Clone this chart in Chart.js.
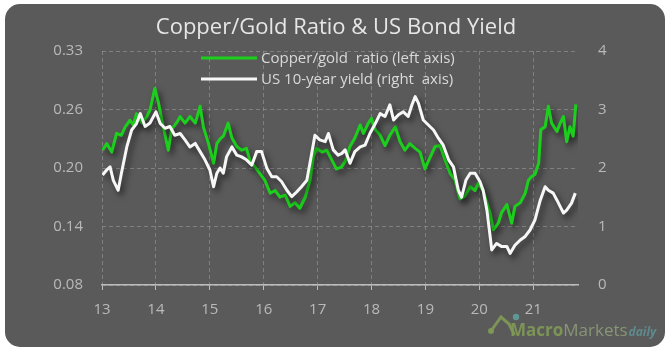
<!DOCTYPE html>
<html>
<head>
<meta charset="utf-8">
<script src="https://cdn.jsdelivr.net/npm/chart.js@4"></script>
<style>
  html, body { margin: 0; padding: 0; background: #ffffff; }
  #panel {
    position: absolute; left: 5px; top: 4px; width: 660px; height: 343px;
    background: #5a5a5a; border-radius: 15px; overflow: hidden;
  }
  #c { display: block; }
</style>
</head>
<body>
<div id="panel"><canvas id="c" width="660" height="343"></canvas></div>
<script>
const chartTitle = 'Copper/Gold Ratio & US Bond Yield';
const seriesLabels = ['Copper/gold  ratio (left axis)', 'US 10-year yield (right  axis)'];

const copperYears = [13.01,13.09,13.18,13.27,13.36,13.43,13.52,13.58,13.64,13.74,13.83,13.89,13.98,
  14.05,14.11,14.17,14.23,14.29,14.39,14.45,14.54,14.63,14.73,14.82,14.88,14.97,
  15.07,15.13,15.19,15.25,15.34,15.41,15.50,15.59,15.68,15.75,15.84,15.93,
  16.02,16.12,16.21,16.30,16.40,16.49,16.58,16.67,16.77,16.86,16.92,16.98,
  17.08,17.17,17.26,17.35,17.44,17.51,17.60,17.69,17.79,17.85,17.94,
  18.00,18.07,18.16,18.25,18.34,18.44,18.53,18.62,18.71,18.81,18.90,18.99,
  19.09,19.18,19.27,19.36,19.46,19.55,19.64,19.73,19.83,19.92,19.98,
  20.07,20.14,20.20,20.26,20.35,20.41,20.51,20.60,20.66,20.76,20.85,20.91,20.97,
  21.03,21.10,21.14,21.22,21.28,21.34,21.44,21.50,21.56,21.62,21.68,21.74,21.79];
const copperGoldRatio = [0.224,0.231,0.222,0.242,0.240,0.249,0.256,0.251,0.263,0.253,
  0.260,0.267,0.290,0.274,0.256,0.240,0.224,0.246,0.254,0.260,
  0.253,0.260,0.253,0.271,0.249,0.232,0.210,0.231,0.236,0.239,
  0.253,0.237,0.228,0.224,0.226,0.212,0.206,0.199,0.192,0.178,
  0.181,0.174,0.176,0.164,0.168,0.162,0.174,0.192,0.217,0.226,
  0.222,0.224,0.214,0.204,0.206,0.212,0.228,0.237,0.251,0.242,
  0.253,0.258,0.246,0.240,0.229,0.240,0.249,0.233,0.224,0.231,
  0.226,0.222,0.204,0.217,0.228,0.229,0.214,0.199,0.192,0.172,
  0.175,0.185,0.181,0.189,0.181,0.168,0.157,0.139,0.146,0.157,
  0.166,0.146,0.164,0.168,0.178,0.192,0.196,0.198,0.210,0.246,
  0.249,0.271,0.253,0.244,0.253,0.260,0.233,0.249,0.239,0.273];

const yieldYears = [13.01,13.09,13.15,13.21,13.30,13.36,13.46,13.55,13.64,13.71,13.80,13.89,
  14.00,14.08,14.17,14.26,14.35,14.45,14.54,14.63,14.73,14.82,14.91,
  15.00,15.07,15.13,15.19,15.25,15.31,15.41,15.50,15.59,15.68,15.78,15.87,15.96,
  16.06,16.15,16.24,16.33,16.43,16.52,16.61,16.70,16.80,16.89,16.95,
  17.04,17.14,17.20,17.29,17.38,17.45,17.51,17.60,17.69,17.79,17.88,17.97,
  18.07,18.16,18.25,18.34,18.41,18.50,18.59,18.68,18.75,18.81,18.87,18.96,
  19.05,19.15,19.24,19.33,19.43,19.52,19.61,19.67,19.75,19.83,19.92,
  20.01,20.07,20.14,20.20,20.23,20.32,20.41,20.51,20.57,20.66,20.76,20.85,20.94,
  21.03,21.13,21.22,21.28,21.37,21.44,21.50,21.56,21.62,21.71,21.78];
const usYield = [1.88,1.97,2.02,1.79,1.62,1.91,2.36,2.65,2.76,2.93,
  2.71,2.77,2.96,2.76,2.68,2.71,2.56,2.59,2.48,2.36,
  2.42,2.28,2.14,1.97,1.68,1.91,2.00,1.91,2.19,2.36,
  2.22,2.19,2.14,2.05,2.28,2.28,1.99,1.85,1.85,1.77,
  1.62,1.51,1.59,1.68,1.79,2.25,2.56,2.48,2.45,2.59,
  2.31,2.22,2.25,2.31,2.08,2.28,2.36,2.39,2.59,2.76,
  2.93,2.88,3.08,2.82,2.91,2.96,2.88,3.08,3.22,3.11,
  2.82,2.74,2.65,2.51,2.39,2.14,2.02,1.62,1.50,1.79,
  1.91,1.91,1.77,1.62,1.28,0.83,0.60,0.71,0.66,0.66,
  0.54,0.68,0.77,0.83,0.94,1.11,1.45,1.68,1.62,1.57,
  1.45,1.34,1.23,1.28,1.40,1.57];

const xTickValues = [13,14,15,16,17,18,19,20,21];
const leftTickValues = [0.08,0.1425,0.205,0.2675,0.33];
const leftTickLabels = ['0.08','0.14','0.20','0.26','0.33'];
const rightTickValues = [0,1,2,3,4];

const FONT = '"Open Sans", "DejaVu Sans", sans-serif';
const GREEN = '#1ccf1c';
const WHITE = '#f7f7f7';
const GRID = 'rgba(160,160,160,0.55)';
const TICKTXT = '#b9b9b9';

const shadowPlugin = {
  id: 'lineShadow',
  beforeDatasetDraw(chart) {
    const ctx = chart.ctx;
    ctx.save();
    ctx.shadowColor = 'rgba(0,0,0,0.6)';
    ctx.shadowBlur = 6;
    ctx.shadowOffsetX = 3;
    ctx.shadowOffsetY = 4;
  },
  afterDatasetDraw(chart) { chart.ctx.restore(); }
};

const overlayPlugin = {
  id: 'overlay',
  afterDraw(chart) {
    const ctx = chart.ctx;
    ctx.save();
    // title
    ctx.fillStyle = '#e6e6e6';
    ctx.font = '22px ' + FONT;
    ctx.textAlign = 'center';
    ctx.textBaseline = 'middle';
    ctx.fillText(chartTitle, 331, 24);
    // legend
    const items = [
      {label: chart.data.datasets[0].label, color: GREEN, y: 54},
      {label: chart.data.datasets[1].label, color: WHITE, y: 75}
    ];
    ctx.textAlign = 'left';
    ctx.font = '15px ' + FONT;
    items.forEach(it => {
      ctx.strokeStyle = it.color;
      ctx.lineWidth = 3;
      ctx.beginPath();
      ctx.moveTo(196, it.y);
      ctx.lineTo(252, it.y);
      ctx.stroke();
      ctx.fillStyle = '#d9d9d9';
      ctx.fillText(it.label, 256, it.y + 1);
    });
    // watermark
    ctx.globalAlpha = 0.9;
    ctx.strokeStyle = '#7f9a55';
    ctx.lineWidth = 3;
    ctx.lineCap = 'round';
    ctx.beginPath();
    ctx.moveTo(486, 327);
    ctx.lineTo(496, 313);
    ctx.lineTo(504, 320);
    ctx.lineTo(509, 330);
    ctx.stroke();
    ctx.fillStyle = '#7f9a55';
    ctx.beginPath(); ctx.arc(486, 327, 3, 0, Math.PI * 2); ctx.fill();
    ctx.fillStyle = '#5e9e9a';
    ctx.beginPath(); ctx.arc(511, 313, 3.2, 0, Math.PI * 2); ctx.fill();
    ctx.textBaseline = 'alphabetic';
    ctx.font = 'bold 17px ' + FONT;
    ctx.fillStyle = '#7f9a55';
    ctx.fillText('Macro', 505, 332);
    let w = ctx.measureText('Macro').width;
    ctx.font = '17px ' + FONT;
    ctx.fillStyle = '#8c9c78';
    ctx.fillText('Markets', 505 + w, 332);
    w += ctx.measureText('Markets').width;
    ctx.font = 'italic bold 12px ' + FONT;
    ctx.fillStyle = '#5f8f94';
    ctx.fillText('daily', 506 + w, 332);
    ctx.restore();
  }
};

const ctx = document.getElementById('c').getContext('2d');
new Chart(ctx, {
  type: 'line',
  data: {
    datasets: [
      {
        label: seriesLabels[0],
        data: copperYears.map((x, i) => ({x: x, y: copperGoldRatio[i]})),
        yAxisID: 'yL',
        borderColor: GREEN,
        borderWidth: 3,
        pointRadius: 0,
        tension: 0,
        borderJoinStyle: 'round',
        order: 2
      },
      {
        label: seriesLabels[1],
        data: yieldYears.map((x, i) => ({x: x, y: usYield[i]})),
        yAxisID: 'yR',
        borderColor: WHITE,
        borderWidth: 3,
        pointRadius: 0,
        tension: 0,
        borderJoinStyle: 'round',
        order: 1
      }
    ]
  },
  options: {
    responsive: false,
    animation: false,
    devicePixelRatio: 1,
    layout: { padding: { top: 47, left: 0, right: 0, bottom: 0 } },
    plugins: { legend: { display: false }, title: { display: false }, tooltip: { enabled: false } },
    scales: {
      x: {
        type: 'linear',
        min: 13,
        max: 21.83,
        afterBuildTicks(s) { s.ticks = xTickValues.map(v => ({value: v})); },
        afterFit(s) { s.height = 62; },
        ticks: { color: TICKTXT, font: { family: FONT, size: 15 }, padding: 11, autoSkip: false, maxRotation: 0 },
        grid: { color: GRID, tickColor: '#bdbdbd', tickLength: 5, tickBorderDash: [] },
        border: { display: true, color: '#bdbdbd', width: 1.5, dash: [4, 3] }
      },
      yL: {
        type: 'linear',
        position: 'left',
        min: 0.08,
        max: 0.33,
        afterBuildTicks(s) { s.ticks = leftTickValues.map(v => ({value: v})); },
        afterFit(s) { s.width = 97; },
        ticks: {
          color: TICKTXT, font: { family: FONT, size: 15 }, padding: 19,
          callback: (v, i) => leftTickLabels[i]
        },
        grid: { color: GRID, drawTicks: false },
        border: { display: false, dash: [4, 3] }
      },
      yR: {
        type: 'linear',
        position: 'right',
        min: 0,
        max: 4,
        afterBuildTicks(s) { s.ticks = rightTickValues.map(v => ({value: v})); },
        afterFit(s) { s.width = 87; },
        ticks: { color: TICKTXT, font: { family: FONT, size: 15 }, padding: 20, callback: v => String(v) },
        grid: { display: false, drawTicks: false },
        border: { display: false }
      }
    }
  },
  plugins: [shadowPlugin, overlayPlugin]
});
</script>
</body>
</html>
